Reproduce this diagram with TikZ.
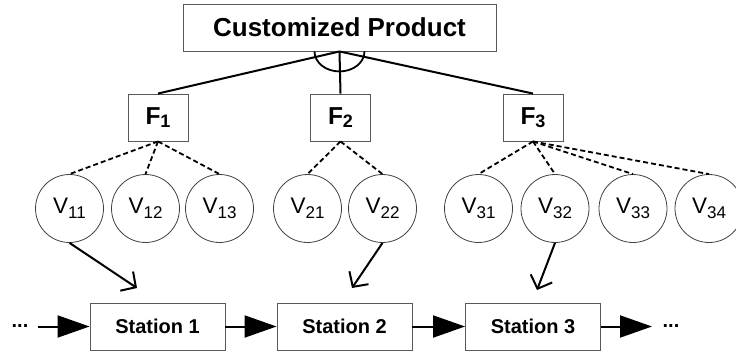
\documentclass[tikz,border=0pt]{standalone}
\usepackage{fontspec}
\setmainfont{Liberation Sans}
\usetikzlibrary{arrows.meta}
\begin{document}
\begin{tikzpicture}[x=1pt,y=-1pt,
  box/.style={draw=black!65, line width=0.9pt, rectangle, inner sep=0pt, fill=white},
  fbox/.style={box, minimum width=60pt, minimum height=47pt, font=\bfseries\fontsize{24.5}{28}\selectfont},
  stbox/.style={box, minimum width=135pt, minimum height=47pt, font=\bfseries\fontsize{20}{24}\selectfont},
  var/.style={draw=black!75, line width=0.8pt, circle, minimum size=68pt, inner sep=0pt, font=\fontsize{22.5}{26}\selectfont},
  solidline/.style={line width=2pt},
  dashline/.style={line width=1.8pt, dash pattern=on 5pt off 3pt},
  varr/.style={line width=2pt, -{Straight Barb[length=11pt,width=23pt,line width=2pt]}},
  flow/.style={line width=2pt, -{Triangle[length=32pt,width=22pt]}},
  dots/.style={font=\bfseries\fontsize{20}{24}\selectfont, inner sep=0pt}
]
\useasboundingbox (0,0) rectangle (736,353);
\newcommand{\fsub}[1]{\raisebox{-3pt}{\fontsize{18}{20}\selectfont #1}}
\newcommand{\vsub}[1]{\raisebox{-5.5pt}{\fontsize{17}{20}\selectfont #1}}

\node[box, minimum width=313pt, minimum height=47pt, font=\bfseries\fontsize{26}{30}\selectfont] (cp) at (339.5,27.5) {Customized Product};

\node[fbox] (f1) at (158,117.5) {F\fsub{1}};
\node[fbox] (f2) at (340.5,117.5) {F\fsub{2}};
\node[fbox] (f3) at (533,117.5) {F\fsub{3}};

\node[var] (v11) at (69.5,208.5) {V\vsub{11}};
\node[var] (v12) at (145.5,208.5) {V\vsub{12}};
\node[var] (v13) at (219.5,208.5) {V\vsub{13}};
\node[var] (v21) at (307.5,208.5) {V\vsub{21}};
\node[var] (v22) at (382.5,208.5) {V\vsub{22}};
\node[var] (v31) at (478.5,208.5) {V\vsub{31}};
\node[var] (v32) at (555,208.5) {V\vsub{32}};
\node[var] (v33) at (633,208.5) {V\vsub{33}};
\node[var] (v34) at (709,208.5) {V\vsub{34}};

\node[stbox] (s1) at (157.5,326.5) {Station 1};
\node[stbox] (s2) at (344.5,326.5) {Station 2};
\node[stbox] (s3) at (533,326.5) {Station 3};

\node[dots] (d0) at (20,326) {...};
\node[dots] (d4) at (671,326) {...};

\coordinate (a0) at (38,326.5);
\coordinate (a4) at (652,326.5);
\coordinate (t1) at (137,288);
\coordinate (t2) at (352,288);
\coordinate (t3) at (537,290);

% AND structure
\draw[solidline] (cp.south) -- (f1.north);
\draw[solidline] (cp.south) -- (f2.north);
\draw[solidline] (cp.south) -- (f3.north);
\draw[line width=1.8pt] (cp.south) ++(-25,0) arc[start angle=180, end angle=0, x radius=25, y radius=20];

% variants
\draw[dashline] (f1.south) -- (v11.north);
\draw[dashline] (f1.south) -- (v12.north);
\draw[dashline] (f1.south) -- (v13.north);
\draw[dashline] (f2.south) -- (v21.north);
\draw[dashline] (f2.south) -- (v22.north);
\draw[dashline] (f3.south) -- (v31.north);
\draw[dashline] (f3.south) -- (v32.north);
\draw[dashline] (f3.south) -- (v33.north);
\draw[dashline] (f3.south) -- (v34.north);

% variant to station
\draw[varr] (v11.south) -- (t1);
\draw[varr] (v22.south) -- (t2);
\draw[varr] (v32.south) -- (t3);

% flow
\draw[flow] (a0) -- (s1.west);
\draw[flow] (s1.east) -- (s2.west);
\draw[flow] (s2.east) -- (s3.west);
\draw[flow] (s3.east) -- (a4);
\end{tikzpicture}
\end{document}
